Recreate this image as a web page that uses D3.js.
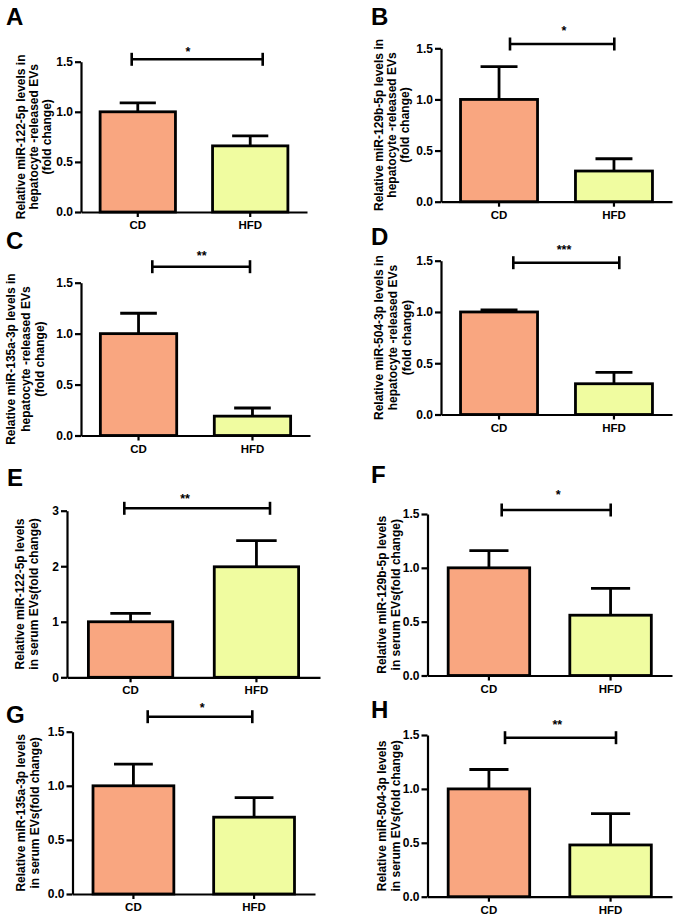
<!DOCTYPE html>
<html>
<head>
<meta charset="utf-8">
<script src="https://cdn.jsdelivr.net/npm/d3@7"></script>
<style>
  html, body { margin: 0; padding: 0; background: #fff; }
  svg { display: block; }
  text { font-family: "Liberation Sans", Arial, Helvetica, sans-serif; font-weight: bold; }
</style>
</head>
<body>
<svg id="chart" width="677" height="919"></svg>
<script>
// ---------------- DATA ----------------
const categories = ["CD", "HFD"];
const panelLetters = ["A", "B", "C", "D", "E", "F", "G", "H"];
const cdMeans  = [1.00, 1.00, 1.00, 1.00, 1.00, 1.00, 1.00, 1.00];
const hfdMeans = [0.66, 0.30, 0.19, 0.30, 1.99, 0.56, 0.71, 0.48];
const cdErrors  = [0.09, 0.32, 0.20, 0.02, 0.15, 0.16, 0.20, 0.18];
const hfdErrors = [0.10, 0.12, 0.08, 0.11, 0.47, 0.25, 0.18, 0.29];
const significance = ["*", "*", "**", "***", "**", "*", "*", "**"];
const yMaxes = [1.5, 1.5, 1.5, 1.5, 3, 1.5, 1.5, 1.5];
const ticksFold = [0, 0.5, 1.0, 1.5];
const ticksSerumE = [0, 1, 2, 3];
const yTitles = [
  ["Relative miR-122-5p levels in", "hepatocyte -released EVs", "(fold change)"],
  ["Relative miR-129b-5p levels in", "hepatocyte -released EVs", "(fold change)"],
  ["Relative miR-135a-3p levels in", "hepatocyte -released EVs", "(fold change)"],
  ["Relative miR-504-3p levels in", "hepatocyte -released EVs", "(fold change)"],
  ["Relative miR-122-5p levels", "in serum EVs(fold change)"],
  ["Relative miR-129b-5p levels", "in serum EVs(fold change)"],
  ["Relative miR-135a-3p levels", "in serum EVs(fold change)"],
  ["Relative miR-504-3p levels", "in serum EVs(fold change)"]
];
const barColors = ["#F9A680", "#F0FCA0"];

// ---------------- LAYOUT (pixel placement of each panel) ----------------
const layout = [
  {x0: 81,  x1: 307, yTop: 61.7,  yBot: 212,   letter: [6, 25],    titleX: [25, 38, 51],      br: [131.7, 262.7, 59.3], star: [188, 48.3]},
  {x0: 441, x1: 672, yTop: 48.3,  yBot: 201.7, letter: [371, 25],  titleX: [383, 396, 409],   br: [510, 614.3, 44],     star: [564, 27]},
  {x0: 81,  x1: 310, yTop: 282.7, yBot: 435.5, letter: [6, 249],   titleX: [15, 29.5, 44],    br: [152.3, 250, 266.7],  star: [201.7, 252.7]},
  {x0: 441, x1: 672, yTop: 260.7, yBot: 414.5, letter: [371, 245], titleX: [383, 397, 411],   br: [513.3, 619.3, 262.7],star: [564, 246]},
  {x0: 67,  x1: 320, yTop: 510.7, yBot: 677.3, letter: [7, 486],   titleX: [24, 37.5],        br: [124.3, 270, 508.3],  star: [185, 495]},
  {x0: 427.5, x1: 672, yTop: 514, yBot: 675.5, letter: [371, 483], titleX: [386, 400],        br: [501.7, 610.7, 510],  star: [558.3, 491.7]},
  {x0: 72.5, x1: 315, yTop: 731.7, yBot: 894,  letter: [6, 723],   titleX: [24.5, 38.5],      br: [147.7, 252.3, 716.7],star: [202.3, 704.3]},
  {x0: 427.5, x1: 672, yTop: 735, yBot: 896.7, letter: [371, 718], titleX: [386, 400],        br: [505, 616, 737.7],    star: [557.3, 721]}
];

const svg = d3.select("#chart");

panelLetters.forEach((letter, i) => {
  const L = layout[i];
  const g = svg.append("g");
  const rows = categories.map((c, j) => ({
    cat: c,
    mean: j === 0 ? cdMeans[i] : hfdMeans[i],
    err: j === 0 ? cdErrors[i] : hfdErrors[i],
    color: barColors[j]
  }));

  const x = d3.scaleBand().domain(categories).range([L.x0, L.x1])
    .paddingInner(0.33).paddingOuter(0.17);
  const y = d3.scaleLinear().domain([0, yMaxes[i]]).range([L.yBot, L.yTop]);
  const ticks = yMaxes[i] === 3 ? ticksSerumE : ticksFold;

  // error bars (upper only)
  const capHalf = x.bandwidth() * 0.24;
  rows.forEach(d => {
    const cx = x(d.cat) + x.bandwidth() / 2;
    g.append("line").attr("x1", cx).attr("x2", cx)
      .attr("y1", y(d.mean)).attr("y2", y(d.mean + d.err))
      .attr("stroke", "#000").attr("stroke-width", 2.8);
    g.append("line").attr("x1", cx - capHalf).attr("x2", cx + capHalf)
      .attr("y1", y(d.mean + d.err)).attr("y2", y(d.mean + d.err))
      .attr("stroke", "#000").attr("stroke-width", 2.8);
  });

  // bars
  g.selectAll("rect.bar").data(rows).enter().append("rect")
    .attr("class", "bar")
    .attr("x", d => x(d.cat))
    .attr("y", d => y(d.mean))
    .attr("width", x.bandwidth())
    .attr("height", d => y(0) - y(d.mean))
    .attr("fill", d => d.color)
    .attr("stroke", "#000")
    .attr("stroke-width", 2.8);

  // y axis
  const fmt = yMaxes[i] === 3 ? d3.format("d") : d3.format(".1f");
  const ya = g.append("g").attr("transform", `translate(${L.x0},0)`)
    .call(d3.axisLeft(y).tickValues(ticks).tickFormat(fmt).tickSize(6).tickSizeOuter(0).tickPadding(2));
  ya.select(".domain").attr("stroke", "#000").attr("stroke-width", 2.2);
  ya.selectAll(".tick line").attr("stroke", "#000").attr("stroke-width", 2.2);
  ya.selectAll(".tick text").attr("font-size", 12).attr("fill", "#000")
    .attr("font-family", "'Liberation Sans', Arial, sans-serif").attr("font-weight", "bold");

  // x axis
  const xa = g.append("g").attr("transform", `translate(0,${L.yBot})`)
    .call(d3.axisBottom(x).tickSize(5).tickSizeOuter(0).tickPadding(4));
  xa.select(".domain").attr("stroke", "#000").attr("stroke-width", 2.2);
  xa.selectAll(".tick line").attr("stroke", "#000").attr("stroke-width", 2.2);
  xa.selectAll(".tick text").attr("font-size", 11.5).attr("fill", "#000")
    .attr("font-family", "'Liberation Sans', Arial, sans-serif").attr("font-weight", "bold");

  // significance bracket
  const [bl, br, by] = L.br;
  g.append("line").attr("x1", bl).attr("x2", br).attr("y1", by).attr("y2", by)
    .attr("stroke", "#000").attr("stroke-width", 2.6);
  [bl, br].forEach(bx => {
    g.append("line").attr("x1", bx).attr("x2", bx).attr("y1", by - 6.5).attr("y2", by + 6.5)
      .attr("stroke", "#000").attr("stroke-width", 2.6);
  });
  g.append("text").attr("x", L.star[0]).attr("y", L.star[1] + 7.5)
    .attr("text-anchor", "middle").attr("font-size", 12.5).text(significance[i]);

  // panel letter
  g.append("text").attr("x", L.letter[0]).attr("y", L.letter[1])
    .attr("font-size", 24).attr("font-weight", "bold").text(letter);

  // y-axis title
  const cy = (L.yTop + L.yBot) / 2;
  yTitles[i].forEach((line, k) => {
    g.append("text")
      .attr("transform", `translate(${L.titleX[k]},${cy}) rotate(-90)`)
      .attr("text-anchor", "middle")
      .attr("font-size", 12)
      .text(line);
  });
});
</script>
</body>
</html>
